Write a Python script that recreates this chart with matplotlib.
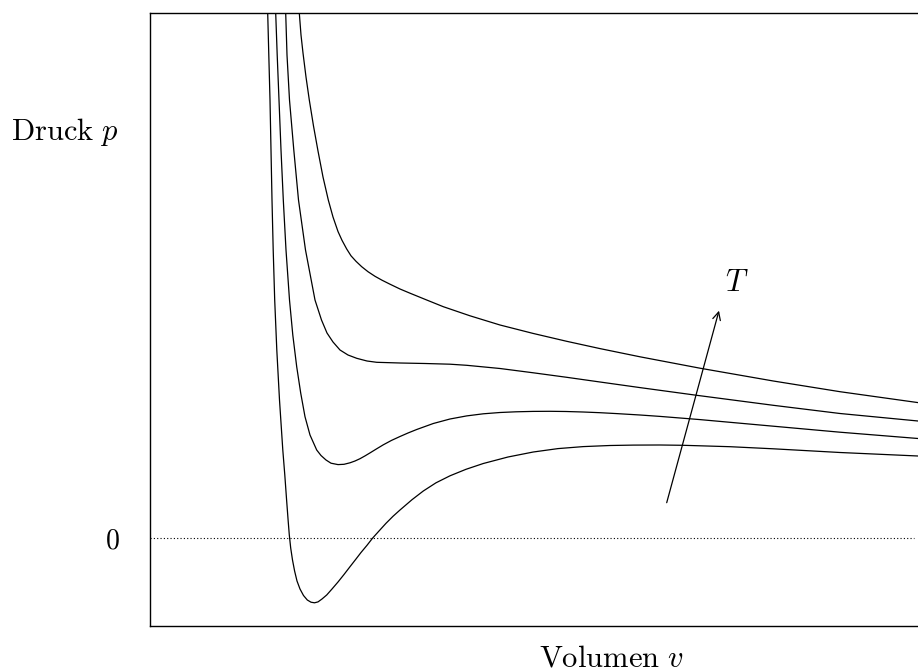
import matplotlib
matplotlib.use('Agg')
import matplotlib.pyplot as plt

plt.rcParams['mathtext.fontset'] = 'cm'
plt.rcParams['font.family'] = 'serif'
plt.rcParams['font.serif'] = ['cmr10', 'DejaVu Serif']

# isotherms, lowest temperature first (v, p)
v1 = [1.177, 1.188, 1.20, 1.21, 1.22, 1.232, 1.247, 1.268, 1.295, 1.328, 1.348, 1.366, 1.381, 1.393,
      1.407, 1.425, 1.446, 1.47, 1.50, 1.535, 1.573, 1.61, 1.645, 1.68, 1.72, 1.767, 1.82, 1.88, 1.94,
      2.00, 2.06, 2.11, 2.17, 2.227, 2.29, 2.36, 2.43, 2.50, 2.62, 2.733, 2.86, 3.00, 3.16, 3.333, 3.58,
      3.833, 4.08, 4.333, 4.60, 4.833, 5.10, 5.333, 5.80, 6.233, 6.90, 7.68]
p1 = [5.25, 4.83, 4.38, 3.88, 3.38, 2.88, 2.38, 1.88, 1.38, 0.88, 0.63, 0.38, 0.18, 0.03,
      -0.10, -0.22, -0.33, -0.43, -0.51, -0.575, -0.62, -0.642, -0.648, -0.639, -0.61, -0.57, -0.51, -0.44, -0.365,
      -0.287, -0.21, -0.145, -0.073, 0.0, 0.07, 0.147, 0.217, 0.28, 0.383, 0.47, 0.552, 0.622, 0.687, 0.745, 0.81,
      0.86, 0.894, 0.914, 0.925, 0.929, 0.93, 0.927, 0.913, 0.892, 0.855, 0.82]

v2 = [1.257, 1.272, 1.29, 1.31, 1.333, 1.36, 1.395, 1.428, 1.467, 1.507, 1.55, 1.60, 1.667, 1.71, 1.76,
      1.81, 1.88, 1.94, 2.00, 2.05, 2.10, 2.15, 2.20, 2.26, 2.333, 2.415, 2.50, 2.58, 2.667, 2.833,
      3.00, 3.167, 3.333, 3.50, 3.66, 3.83, 4.00, 4.16, 4.33, 4.50, 4.667, 4.90, 5.10, 5.50, 6.233,
      6.90, 7.68]
p2 = [5.25, 4.83, 4.38, 3.88, 3.38, 2.88, 2.38, 2.03, 1.713, 1.45, 1.213, 1.03, 0.88, 0.825, 0.78,
      0.748, 0.734, 0.737, 0.752, 0.77, 0.793, 0.821, 0.851, 0.888, 0.932, 0.976, 1.015, 1.05, 1.085, 1.145,
      1.19, 1.221, 1.242, 1.255, 1.262, 1.266, 1.267, 1.265, 1.26, 1.253, 1.244, 1.23, 1.216, 1.184, 1.118,
      1.058, 0.995]

v3 = [1.357, 1.37, 1.395, 1.438, 1.485, 1.555, 1.65, 1.715, 1.77, 1.83, 1.90, 1.98, 2.067, 2.17,
      2.267, 2.50, 2.75, 3.00, 3.167, 3.50, 3.833, 4.167, 4.50, 4.90, 5.467, 6.233, 6.90, 7.68]
p3 = [5.25, 4.83, 4.38, 3.88, 3.38, 2.88, 2.38, 2.18, 2.05, 1.96, 1.88, 1.83, 1.797, 1.77,
      1.757, 1.75, 1.745, 1.738, 1.727, 1.695, 1.652, 1.607, 1.56, 1.504, 1.427, 1.327, 1.245, 1.17]

v4 = [1.493, 1.51, 1.53, 1.56, 1.593, 1.635, 1.68, 1.73, 1.783, 1.83, 1.88, 1.92, 1.967, 2.01, 2.06,
      2.117, 2.18, 2.25, 2.32, 2.40, 2.50, 2.60, 2.767, 2.933, 3.20, 3.50, 3.83, 4.167, 4.50, 4.90,
      5.50, 6.233, 6.90, 7.68]
p4 = [5.25, 5.03, 4.85, 4.61, 4.38, 4.12, 3.87, 3.61, 3.38, 3.21, 3.065, 2.977, 2.89, 2.822, 2.767,
      2.713, 2.663, 2.617, 2.578, 2.538, 2.49, 2.448, 2.38, 2.313, 2.222, 2.13, 2.046, 1.967, 1.894, 1.812,
      1.698, 1.57, 1.463, 1.354]

isotherms = [(v1, p1), (v2, p2), (v3, p3), (v4, p4)]

# temperature arrow (tail, head) and its label
arrow_tail = (5.167, 0.353)
arrow_head = (5.69, 2.273)
t_label_pos = (5.87, 2.55)

fig = plt.figure(figsize=(9.18, 6.72), dpi=100)
ax = fig.add_axes([150 / 918, 46 / 672, 768 / 918, 613 / 672])

for v, p in isotherms:
    ax.plot(v, p, color='black', lw=0.9, solid_joinstyle='round')

ax.axhline(0, xmin=0, xmax=0.995, color='black', lw=0.8, linestyle=(0, (1, 2)))

ax.annotate('', xy=arrow_head, xytext=arrow_tail,
            arrowprops=dict(arrowstyle='->', lw=0.9, color='black',
                            mutation_scale=14, shrinkA=0, shrinkB=0))
ax.text(t_label_pos[0], t_label_pos[1], r'$T$', fontsize=22, ha='center', va='center')

ax.set_xlim(0, 7.68)
ax.set_ylim(-0.88, 5.25)
ax.set_xticks([])
ax.set_yticks([0])
ax.set_yticklabels([r'$0$'], fontsize=20)
ax.tick_params(axis='y', length=0, pad=22)
ax.spines['right'].set_visible(False)
for s in ['left', 'top', 'bottom']:
    ax.spines[s].set_linewidth(1.0)

fig.text(11 / 918, 1 - 139.5 / 672, r'$\mathrm{Druck}\ p$', fontsize=22, ha='left', va='baseline')
fig.text(539 / 918, 1 - 666.5 / 672, r'$\mathrm{Volumen}\ v$', fontsize=22, ha='left', va='baseline')

fig.savefig('out.png', dpi=100)
